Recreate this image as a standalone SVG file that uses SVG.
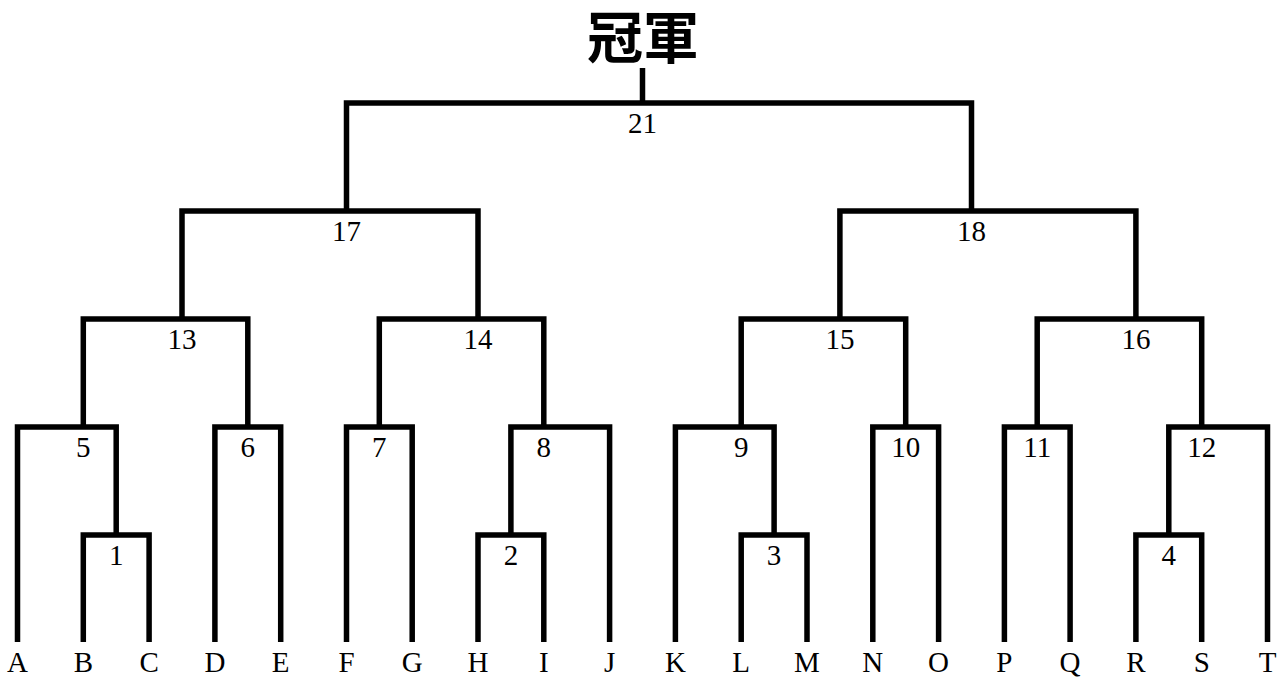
<svg xmlns="http://www.w3.org/2000/svg" width="1287" height="681" viewBox="0 0 1287 681">
<style>
.c{fill:none;stroke:#000;stroke-width:5.5;stroke-linejoin:miter;stroke-linecap:butt}
.n{font-family:"Liberation Serif","Times New Roman",serif;font-size:29px;text-anchor:middle;fill:#000}
.t{font-family:"Noto Sans CJK TC","Noto Sans CJK SC",sans-serif;font-weight:bold;font-size:56px;text-anchor:middle;fill:#000}
</style>
<rect width="1287" height="681" fill="#fff"/>
<g id="connectors" class="c">
<path d="M83.3 642V535H149.1V642"/>
<path d="M478 642V535H543.8V642"/>
<path d="M741.2 642V535H807V642"/>
<path d="M1135.9 642V535H1201.7V642"/>
<path d="M17.5 642V427H116.2V535"/>
<path d="M214.9 642V427H280.7V642"/>
<path d="M346.5 642V427H412.2V642"/>
<path d="M510.9 535V427H609.6V642"/>
<path d="M675.4 642V427H774.1V535"/>
<path d="M872.8 642V427H938.6V642"/>
<path d="M1004.4 642V427H1070.1V642"/>
<path d="M1168.8 535V427H1267.5V642"/>
<path d="M83.3 427V319H247.8V427"/>
<path d="M379.3 427V319H543.8V427"/>
<path d="M741.2 427V319H905.7V427"/>
<path d="M1037.2 427V319H1201.7V427"/>
<path d="M182 319V211H478V319"/>
<path d="M839.9 319V211H1135.9V319"/>
<path d="M346.5 211V103H971.5V211"/>
<path d="M642.5 103V68"/>
</g>
<g id="champion"><text class="t" x="643" y="58">冠軍</text></g>
<g id="m21"><text class="n" x="642.5" y="132.5">21</text></g>
<g id="m17"><text class="n" x="346.5" y="240.5">17</text></g>
<g id="m18"><text class="n" x="971.5" y="240.5">18</text></g>
<g id="m13"><text class="n" x="182" y="348.5">13</text></g>
<g id="m14"><text class="n" x="478" y="348.5">14</text></g>
<g id="m15"><text class="n" x="839.9" y="348.5">15</text></g>
<g id="m16"><text class="n" x="1135.9" y="348.5">16</text></g>
<g id="m5"><text class="n" x="83.3" y="456.5">5</text></g>
<g id="m6"><text class="n" x="247.8" y="456.5">6</text></g>
<g id="m7"><text class="n" x="379.3" y="456.5">7</text></g>
<g id="m8"><text class="n" x="543.8" y="456.5">8</text></g>
<g id="m9"><text class="n" x="741.2" y="456.5">9</text></g>
<g id="m10"><text class="n" x="905.7" y="456.5">10</text></g>
<g id="m11"><text class="n" x="1037.2" y="456.5">11</text></g>
<g id="m12"><text class="n" x="1201.7" y="456.5">12</text></g>
<g id="m1"><text class="n" x="116.2" y="564.5">1</text></g>
<g id="m2"><text class="n" x="510.9" y="564.5">2</text></g>
<g id="m3"><text class="n" x="774.1" y="564.5">3</text></g>
<g id="m4"><text class="n" x="1168.8" y="564.5">4</text></g>
<g id="tA"><text class="n" x="17.5" y="672">A</text></g>
<g id="tB"><text class="n" x="83.3" y="672">B</text></g>
<g id="tC"><text class="n" x="149.1" y="672">C</text></g>
<g id="tD"><text class="n" x="214.9" y="672">D</text></g>
<g id="tE"><text class="n" x="280.7" y="672">E</text></g>
<g id="tF"><text class="n" x="346.5" y="672">F</text></g>
<g id="tG"><text class="n" x="412.2" y="672">G</text></g>
<g id="tH"><text class="n" x="478" y="672">H</text></g>
<g id="tI"><text class="n" x="543.8" y="672">I</text></g>
<g id="tJ"><text class="n" x="609.6" y="672">J</text></g>
<g id="tK"><text class="n" x="675.4" y="672">K</text></g>
<g id="tL"><text class="n" x="741.2" y="672">L</text></g>
<g id="tM"><text class="n" x="807" y="672">M</text></g>
<g id="tN"><text class="n" x="872.8" y="672">N</text></g>
<g id="tO"><text class="n" x="938.6" y="672">O</text></g>
<g id="tP"><text class="n" x="1004.4" y="672">P</text></g>
<g id="tQ"><text class="n" x="1070.1" y="672">Q</text></g>
<g id="tR"><text class="n" x="1135.9" y="672">R</text></g>
<g id="tS"><text class="n" x="1201.7" y="672">S</text></g>
<g id="tT"><text class="n" x="1267.5" y="672">T</text></g>
</svg>
